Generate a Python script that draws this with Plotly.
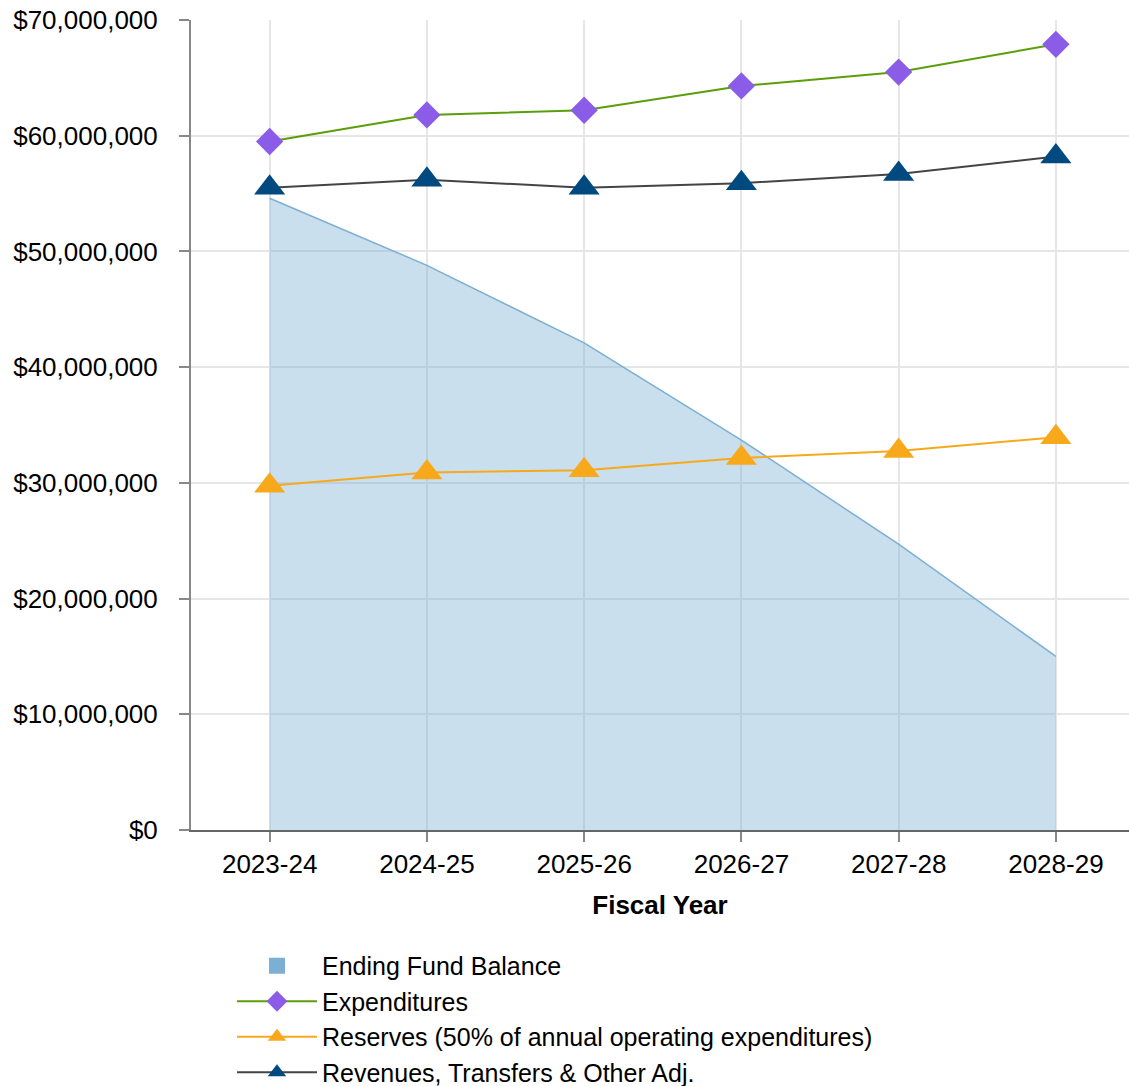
import plotly.graph_objects as go

years = ["2023-24", "2024-25", "2025-26", "2026-27", "2027-28", "2028-29"]
ending_fund_balance = [54600000, 48800000, 42100000, 33700000, 24700000, 15000000]
expenditures = [59500000, 61800000, 62200000, 64300000, 65500000, 67900000]
reserves = [29750000, 30900000, 31100000, 32150000, 32750000, 33950000]
revenues = [55500000, 56200000, 55500000, 55900000, 56700000, 58200000]
y_ticks = [0, 10000000, 20000000, 30000000, 40000000, 50000000, 60000000, 70000000]
y_tick_labels = ["$0", "$10,000,000", "$20,000,000", "$30,000,000", "$40,000,000",
                 "$50,000,000", "$60,000,000", "$70,000,000"]

FONT = "Liberation Sans, Arial, sans-serif"
xi = list(range(len(years)))

fig = go.Figure()
fig.add_trace(go.Scatter(
    x=xi, y=ending_fund_balance, mode="lines", fill="tozeroy",
    line=dict(color="#7bafd4", width=1.5), fillcolor="rgba(123,175,212,0.4)",
    showlegend=False, hoverinfo="skip"))
fig.add_trace(go.Scatter(
    x=[None], y=[None], mode="markers", name="Ending Fund Balance",
    marker=dict(symbol="square", size=26, color="#7bafd4")))
fig.add_trace(go.Scatter(
    x=xi, y=expenditures, mode="lines+markers", name="Expenditures",
    line=dict(color="#5a9e0a", width=2),
    marker=dict(symbol="diamond", size=21, color="#8b5ce8")))
fig.add_trace(go.Scatter(
    x=xi, y=reserves, mode="lines+markers", name="Reserves (50% of annual operating expenditures)",
    line=dict(color="#f7a91b", width=2),
    marker=dict(symbol="triangle-up", size=27, color="#f7a91b")))
fig.add_trace(go.Scatter(
    x=xi, y=revenues, mode="lines+markers", name="Revenues, Transfers & Other Adj.",
    line=dict(color="#444444", width=2),
    marker=dict(symbol="triangle-up", size=27, color="#004a7f")))

fig.update_layout(
    width=1129, height=1086,
    margin=dict(l=191, r=0, t=20, b=256, autoexpand=False),
    paper_bgcolor="white", plot_bgcolor="white",
    font=dict(family=FONT, size=26, color="#000"),
    legend=dict(orientation="v", x=0.0437, xanchor="left", y=-0.1395, yanchor="top",
                font=dict(family=FONT, size=25, color="#000"),
                itemwidth=80, tracegroupgap=0, itemsizing="trace"),
    xaxis=dict(
        range=[-0.5, 5.465], tickmode="array", tickvals=xi, ticktext=years,
        showgrid=True, gridcolor="#e6e6e6", gridwidth=2,
        showline=True, linecolor="#666666", linewidth=2,
        ticks="outside", ticklen=10, tickcolor="#888888", tickwidth=2,
        zeroline=False,
        title=dict(text="<b>Fiscal Year</b>", font=dict(family=FONT, size=26), standoff=18),
        tickfont=dict(family=FONT, size=26),
    ),
    yaxis=dict(
        range=[0, 70000000], tickmode="array", tickvals=y_ticks, ticktext=y_tick_labels,
        showgrid=True, gridcolor="#e6e6e6", gridwidth=2,
        showline=True, linecolor="#888888", linewidth=2,
        ticks="outside", ticklen=10, tickcolor="#888888", tickwidth=2,
        zeroline=False, ticklabelstandoff=16,
        tickfont=dict(family=FONT, size=26),
    ),
)

fig.write_html("out.html")
